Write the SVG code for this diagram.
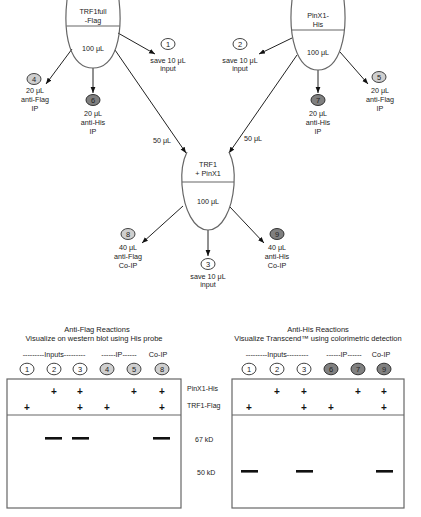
<svg xmlns="http://www.w3.org/2000/svg" width="421" height="517" viewBox="0 0 421 517">
<style>
text{font-family:"Liberation Sans",Arial,sans-serif;fill:#222;text-anchor:middle;font-size:7.2px}
.ttl{font-size:7.5px}
.num{font-size:7.5px}
.pl{font-size:10px;font-weight:bold;fill:#111}
.lab{text-anchor:start;font-size:7px}
.tube{fill:none;stroke:#666;stroke-width:1.2}
.arr{stroke:#222;stroke-width:1;fill:none;marker-end:url(#ah)}
.cw{fill:#fff;stroke:#444;stroke-width:1}
.cl{fill:#cfcfcf;stroke:#444;stroke-width:1}
.cd{fill:#808080;stroke:#333;stroke-width:1}
.box{fill:none;stroke:#666;stroke-width:1.2}
.band{fill:#111}
</style>
<defs>
<marker id="ah" viewBox="0 0 10 10" refX="10" refY="5" markerWidth="6" markerHeight="6" orient="auto" markerUnits="userSpaceOnUse"><path d="M0,1 L10,5 L0,9 z" fill="#111"/></marker>
</defs>

<g id="connectors">
<line class="arr" x1="118" y1="33" x2="155" y2="54"/>
<line class="arr" x1="72" y1="49" x2="46" y2="84"/>
<line class="arr" x1="93" y1="68" x2="93" y2="93"/>
<line class="arr" x1="115" y1="50" x2="186" y2="153"/>
<line class="arr" x1="292" y1="38" x2="259" y2="54"/>
<line class="arr" x1="318" y1="70" x2="318" y2="93"/>
<line class="arr" x1="340" y1="52" x2="368" y2="84"/>
<line class="arr" x1="297" y1="55" x2="229" y2="153"/>
<line class="arr" x1="183" y1="206" x2="142" y2="243"/>
<line class="arr" x1="208" y1="230" x2="208" y2="256"/>
<line class="arr" x1="230" y1="207" x2="264" y2="243"/>
<text x="162" y="142.5">50 μL</text>
<text x="253" y="140.5">50 μL</text>
</g>

<g id="tube-trf1">
<path class="tube" d="M67,0 C63,35 70,68 93,68 C116,68 123,35 119,0"/>
<line class="tube" x1="66.3" y1="26" x2="119.7" y2="26"/>
<text x="93" y="13.5">TRF1full</text>
<text x="93" y="22.5">-Flag</text>
<text x="93" y="50.5">100 μL</text>
</g>

<g id="tube-pinx1">
<path class="tube" d="M292,0 C288,35 296,70 318,70 C340,70 348,35 344,0"/>
<line class="tube" x1="291.7" y1="30" x2="344.3" y2="30"/>
<text x="318" y="17.5">PinX1-</text>
<text x="318" y="26.5">His</text>
<text x="318" y="54.5">100 μL</text>
</g>

<g id="tube-mix">
<path class="tube" d="M187,152 C182,162 181,172 182,185 C184,210 194,230 208,230 C222,230 232,210 234,185 C235,172 234,162 229,152"/>
<line class="tube" x1="182" y1="182" x2="234" y2="182"/>
<text x="208" y="166.5">TRF1</text>
<text x="208" y="175.5">+ PinX1</text>
<text x="208" y="203.5">100 μL</text>
</g>

<g id="s1">
<ellipse class="cw" cx="168" cy="44" rx="7" ry="5.5"/>
<text class="num" x="168" y="46.7">1</text>
<text x="168" y="62.5">save 10 μL</text>
<text x="168" y="70.5">input</text>
</g>
<g id="s2">
<ellipse class="cw" cx="240" cy="44" rx="7" ry="5.5"/>
<text class="num" x="240" y="46.7">2</text>
<text x="240" y="62.5">save 10 μL</text>
<text x="240" y="70.5">input</text>
</g>
<g id="s4">
<ellipse class="cl" cx="34" cy="79" rx="7" ry="5.5"/>
<text class="num" x="34" y="81.7">4</text>
<text x="35" y="92.5">20 μL</text>
<text x="35" y="101.5">anti-Flag</text>
<text x="35" y="110.5">IP</text>
</g>
<g id="s6">
<ellipse class="cd" cx="93" cy="100" rx="7" ry="5.5"/>
<text class="num" x="93" y="102.7">6</text>
<text x="93" y="115.5">20 μL</text>
<text x="93" y="124.5">anti-His</text>
<text x="93" y="133.5">IP</text>
</g>
<g id="s7">
<ellipse class="cd" cx="318" cy="100" rx="7" ry="5.5"/>
<text class="num" x="318" y="102.7">7</text>
<text x="318" y="115.5">20 μL</text>
<text x="318" y="124.5">anti-His</text>
<text x="318" y="133.5">IP</text>
</g>
<g id="s5">
<ellipse class="cl" cx="379" cy="77" rx="7" ry="5.5"/>
<text class="num" x="379" y="79.7">5</text>
<text x="380" y="92.5">20 μL</text>
<text x="380" y="101.5">anti-Flag</text>
<text x="380" y="110.5">IP</text>
</g>
<g id="s8">
<ellipse class="cl" cx="128" cy="234" rx="7" ry="5.5"/>
<text class="num" x="128" y="236.7">8</text>
<text x="128" y="249.5">40 μL</text>
<text x="128" y="258.5">anti-Flag</text>
<text x="128" y="267.5">Co-IP</text>
</g>
<g id="s3">
<ellipse class="cw" cx="208" cy="264" rx="7" ry="5.5"/>
<text class="num" x="208" y="266.7">3</text>
<text x="208" y="278.5">save 10 μL</text>
<text x="208" y="286.5">input</text>
</g>
<g id="s9">
<ellipse class="cd" cx="277" cy="234" rx="7" ry="5.5"/>
<text class="num" x="277" y="236.7">9</text>
<text x="277" y="249.5">40 μL</text>
<text x="277" y="258.5">anti-His</text>
<text x="277" y="267.5">Co-IP</text>
</g>

<g id="panel-flag">
<text class="ttl" x="97" y="331.5">Anti-Flag Reactions</text>
<text class="ttl" x="94" y="340.5">Visualize on western blot using His probe</text>
<text x="54" y="356.5">---------Inputs---------</text>
<text x="119" y="356.5">------IP------</text>
<text x="158" y="356.5">Co-IP</text>
<ellipse class="cw" cx="27" cy="369" rx="7" ry="5.8"/><text class="num" x="27" y="371.7">1</text>
<ellipse class="cw" cx="54" cy="369" rx="7" ry="5.8"/><text class="num" x="54" y="371.7">2</text>
<ellipse class="cw" cx="80" cy="369" rx="7" ry="5.8"/><text class="num" x="80" y="371.7">3</text>
<ellipse class="cl" cx="107" cy="369" rx="7" ry="5.8"/><text class="num" x="107" y="371.7">4</text>
<ellipse class="cl" cx="134" cy="369" rx="7" ry="5.8"/><text class="num" x="134" y="371.7">5</text>
<ellipse class="cl" cx="162" cy="369" rx="7" ry="5.8"/><text class="num" x="162" y="371.7">8</text>
<rect class="box" x="7" y="379" width="174" height="129"/>
<line class="box" x1="7" y1="415" x2="181" y2="415"/>
<text class="pl" x="54" y="394.5">+</text>
<text class="pl" x="80" y="394.5">+</text>
<text class="pl" x="134" y="394.5">+</text>
<text class="pl" x="162" y="394.5">+</text>
<text class="pl" x="27" y="410.5">+</text>
<text class="pl" x="80" y="410.5">+</text>
<text class="pl" x="107" y="410.5">+</text>
<text class="pl" x="162" y="410.5">+</text>
<rect class="band" x="45" y="437" width="17" height="2.6"/>
<rect class="band" x="72" y="437" width="17" height="2.6"/>
<rect class="band" x="153" y="437" width="17" height="2.6"/>
</g>

<g id="panel-labels">
<text class="lab" x="187" y="391">PinX1-His</text>
<text class="lab" x="187" y="408">TRF1-Flag</text>
<text class="lab" x="195" y="441.5">67 kD</text>
<text class="lab" x="197" y="474.5">50 kD</text>
</g>

<g id="panel-his">
<text class="ttl" x="318" y="331.5">Anti-His Reactions</text>
<text class="ttl" x="318" y="340.5">Visualize Transcend™ using colorimetric detection</text>
<text x="277" y="356.5">---------Inputs---------</text>
<text x="344" y="356.5">------IP------</text>
<text x="381" y="356.5">Co-IP</text>
<ellipse class="cw" cx="249" cy="369" rx="7" ry="5.8"/><text class="num" x="249" y="371.7">1</text>
<ellipse class="cw" cx="277" cy="369" rx="7" ry="5.8"/><text class="num" x="277" y="371.7">2</text>
<ellipse class="cw" cx="304" cy="369" rx="7" ry="5.8"/><text class="num" x="304" y="371.7">3</text>
<ellipse class="cd" cx="331" cy="369" rx="7" ry="5.8"/><text class="num" x="331" y="371.7">6</text>
<ellipse class="cd" cx="358" cy="369" rx="7" ry="5.8"/><text class="num" x="358" y="371.7">7</text>
<ellipse class="cd" cx="384" cy="369" rx="7" ry="5.8"/><text class="num" x="384" y="371.7">9</text>
<rect class="box" x="232" y="379" width="172" height="129"/>
<line class="box" x1="232" y1="415" x2="404" y2="415"/>
<text class="pl" x="277" y="394.5">+</text>
<text class="pl" x="304" y="394.5">+</text>
<text class="pl" x="358" y="394.5">+</text>
<text class="pl" x="384" y="394.5">+</text>
<text class="pl" x="249" y="410.5">+</text>
<text class="pl" x="304" y="410.5">+</text>
<text class="pl" x="331" y="410.5">+</text>
<text class="pl" x="384" y="410.5">+</text>
<rect class="band" x="241" y="470" width="17" height="2.6"/>
<rect class="band" x="296" y="470" width="17" height="2.6"/>
<rect class="band" x="376" y="470" width="17" height="2.6"/>
</g>
</svg>
